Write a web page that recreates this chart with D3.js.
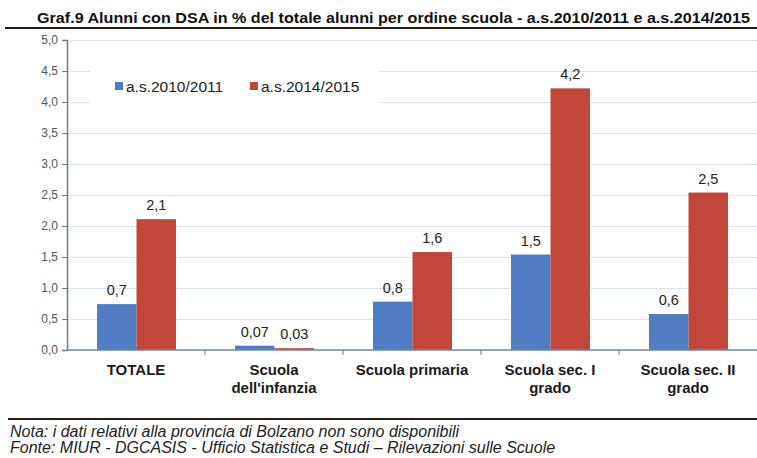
<!DOCTYPE html>
<html><head><meta charset="utf-8">
<script src="https://cdn.jsdelivr.net/npm/d3@7"></script>
<style>body{margin:0;background:#fff}svg{display:block}text{font-family:"Liberation Sans",Arial,sans-serif}</style>
</head><body><svg id="c" width="757" height="458"></svg>
<script>
const categories = [["TOTALE"],["Scuola","dell'infanzia"],["Scuola primaria"],["Scuola sec. I","grado"],["Scuola sec. II","grado"]];
const seriesNames = ["a.s.2010/2011","a.s.2014/2015"];
const values2010 = [0.74, 0.07, 0.78, 1.54, 0.58];
const values2015 = [2.11, 0.03, 1.58, 4.22, 2.54];
const labels2010 = ["0,7","0,07","0,8","1,5","0,6"];
const labels2015 = ["2,1","0,03","1,6","4,2","2,5"];
const yTicks = [0,0.5,1,1.5,2,2.5,3,3.5,4,4.5,5];
const colors = ["#4f7cc2","#c1473a"];

const svg = d3.select("#c");
const m = {l:67, r:757, t:40, b:350};
const x = d3.scaleBand().domain(d3.range(categories.length)).range([m.l,m.r]).paddingInner(0).paddingOuter(0);
const y = d3.scaleLinear().domain([0,5]).range([m.b,m.t]);
const x1 = d3.scaleBand().domain([0,1]).range([0,79]);

// title
const title = svg.append("text").attr("x",37).attr("y",23).attr("font-weight","bold").attr("font-size",15).attr("fill","#111")
  .text("Graf.9 Alunni con DSA in % del totale alunni per ordine scuola - a.s.2010/2011 e a.s.2014/2015");
title.attr("textLength",713).attr("lengthAdjust","spacingAndGlyphs");
svg.append("line").attr("x1",5).attr("x2",757).attr("y1",28).attr("y2",28).attr("stroke","#2a1a14").attr("stroke-width",2);

// gridlines
svg.append("g").selectAll("line").data(yTicks.filter(d=>d>0)).join("line")
  .attr("x1",m.l).attr("x2",m.r).attr("y1",d=>Math.round(y(d))+0.5).attr("y2",d=>Math.round(y(d))+0.5)
  .attr("stroke","#c9dcf3").attr("stroke-width",1).attr("stroke-dasharray","3,1");

// legend background
svg.append("rect").attr("x",90).attr("y",66).attr("width",290).attr("height",40).attr("fill","#fff");
const lg = svg.append("g");
[[115,0],[250,1]].forEach(([lx,i])=>{
  lg.append("rect").attr("x",lx).attr("y",82).attr("width",8).attr("height",8).attr("fill",colors[i]);
  lg.append("text").attr("x",lx+11).attr("y",91.5).attr("font-size",15.5).attr("fill","#222").text(seriesNames[i]);
});

// bars
const series = [values2010, values2015];
const labs = [labels2010, labels2015];
series.forEach((vals,si)=>{
  const g = svg.append("g");
  g.selectAll("rect").data(vals).join("rect")
    .attr("x",(d,i)=>x(i)+30+x1(si)).attr("width",x1.bandwidth())
    .attr("y",d=>y(d)).attr("height",d=>y(0)-y(d)).attr("fill",colors[si]);
  g.selectAll("text").data(vals).join("text")
    .attr("x",(d,i)=>x(i)+30+x1(si)+x1.bandwidth()/2).attr("y",d=>y(d)-9)
    .attr("text-anchor","middle").attr("font-size",14.5).attr("fill","#222")
    .text((d,i)=>labs[si][i]);
});

// y axis
const ya = d3.axisLeft(y).tickValues(yTicks).tickSize(5).tickFormat(d=>d3.format(".1f")(d).replace(".",","));
const yg = svg.append("g").attr("transform",`translate(${m.l},0)`).call(ya);
yg.select(".domain").attr("stroke","#6b7b88").attr("stroke-width",1.5);
yg.selectAll(".tick line").attr("stroke","#6b7b88");
yg.selectAll(".tick text").attr("font-size",12).attr("fill","#555").attr("x",-9).style("font-family","Liberation Sans, Arial, sans-serif");

// x axis baseline & ticks
svg.append("line").attr("x1",m.l).attr("x2",m.r).attr("y1",y(0)).attr("y2",y(0)).attr("stroke","#6b8aa0").attr("stroke-width",1.5);
svg.append("g").selectAll("line").data(d3.range(1,categories.length)).join("line")
  .attr("x1",i=>x(i)).attr("x2",i=>x(i)).attr("y1",y(0)).attr("y2",y(0)+5).attr("stroke","#6b7b88");

// category labels
const cg = svg.append("g");
categories.forEach((lines,i)=>{
  const t = cg.append("text").attr("text-anchor","middle").attr("font-weight","bold").attr("font-size",15).attr("fill","#1a1a1a");
  lines.forEach((ln,j)=>t.append("tspan").attr("x",x(i)+x.bandwidth()/2).attr("y",375+j*18).text(ln));
});

// bottom rule & notes
svg.append("line").attr("x1",8).attr("x2",757).attr("y1",419).attr("y2",419).attr("stroke","#2a1a14").attr("stroke-width",2);
svg.append("text").attr("x",10).attr("y",437).attr("font-size",16).attr("font-style","italic").attr("fill","#222")
  .text("Nota: i dati relativi alla provincia di Bolzano non sono disponibili");
svg.append("text").attr("x",10).attr("y",453).attr("font-size",16).attr("font-style","italic").attr("fill","#222")
  .text("Fonte: MIUR - DGCASIS - Ufficio Statistica e Studi \u2013 Rilevazioni sulle Scuole");
</script></body></html>
